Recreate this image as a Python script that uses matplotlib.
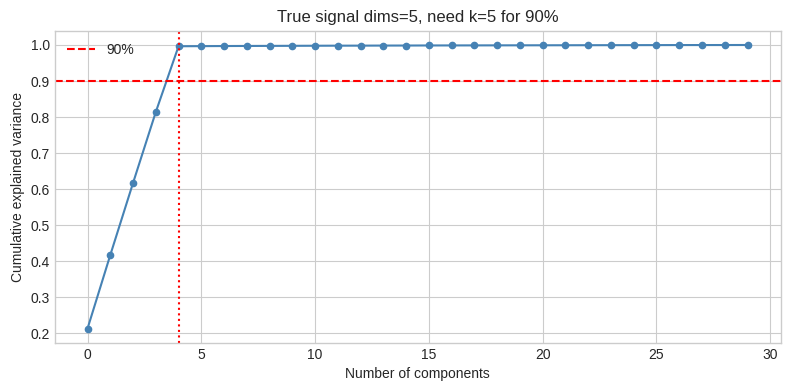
import matplotlib
matplotlib.use("Agg")
import matplotlib.pyplot as plt

plt.style.use("seaborn-v0_8-whitegrid")

components = list(range(30))
cum_var = [0.213, 0.417, 0.617, 0.814, 0.9965,
           0.9968, 0.9971, 0.9973, 0.9975, 0.9977,
           0.9979, 0.9981, 0.9982, 0.9984, 0.9985,
           0.9987, 0.9988, 0.9989, 0.9990, 0.9991,
           0.9992, 0.9993, 0.9994, 0.9995, 0.9996,
           0.9997, 0.9998, 0.99985, 0.9999, 1.0]
threshold = 0.9
k_line = 4

fig, ax = plt.subplots(figsize=(7.9, 3.9), dpi=100)
ax.plot(components, cum_var, marker="o", markersize=4.5, color="steelblue")
ax.axhline(threshold, color="red", linestyle="--", label="90%")
ax.axvline(k_line, color="red", linestyle=":")
ax.set_xlabel("Number of components")
ax.set_ylabel("Cumulative explained variance")
ax.set_title("True signal dims=5, need k=5 for 90%")
ax.legend(loc="upper left")
fig.subplots_adjust(left=0.069, right=0.988, top=0.921, bottom=0.121)
fig.savefig("out.png")
